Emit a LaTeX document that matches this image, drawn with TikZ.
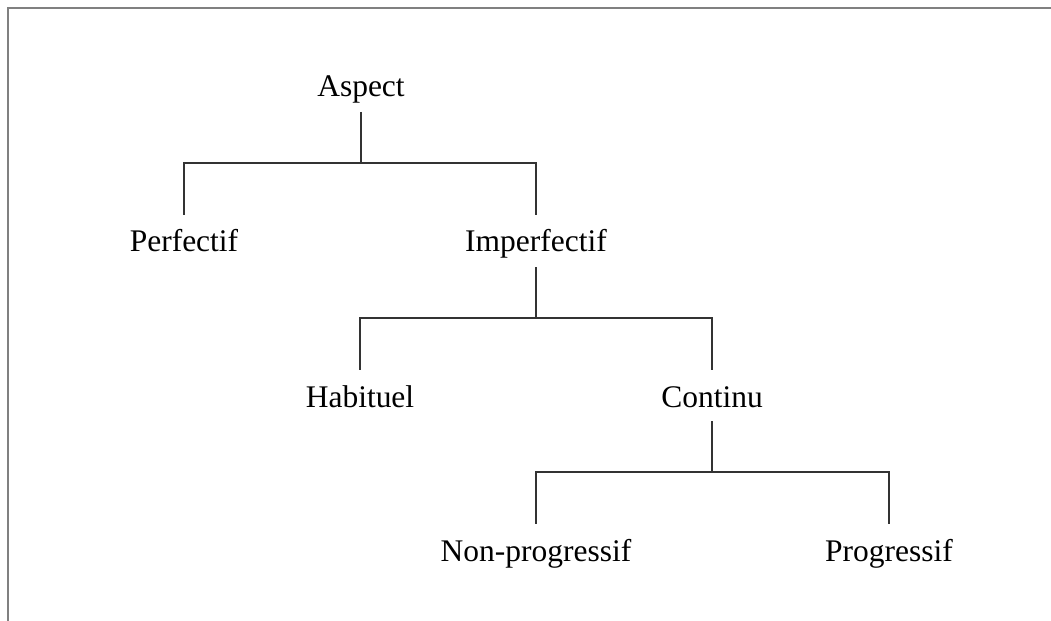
\documentclass[tikz,border=0pt]{standalone}
\usepackage{fontspec}
\setmainfont{Liberation Serif}
\begin{document}
\begin{tikzpicture}[x=1bp,y=-1bp,
  lbl/.style={anchor=base,inner sep=0pt,font=\fontsize{31.6}{38}\selectfont},
  conn/.style={draw=black!80,line width=1.1bp},
  frame/.style={draw=black!50,line width=1.5bp}]
\useasboundingbox (0,0) rectangle (1051,621);
\draw[frame] (8,621) -- (8,8) -- (1051,8);
\node[lbl] (asp) at (361,97) {Aspect};
\node[lbl] (perf) at (184,252) {Perfectif};
\node[lbl] (imp) at (536,252) {Imperfectif};
\node[lbl] (hab) at (360,407) {Habituel};
\node[lbl] (cont) at (712,407) {Continu};
\node[lbl] (nonp) at (536,561) {Non-progressif};
\node[lbl] (prog) at (889,561) {Progressif};
\draw[conn] ([yshift=-15bp]asp.base) -- ([yshift=-66bp]asp.base) -| ([yshift=37bp]perf.base);
\draw[conn] ([yshift=-66bp]asp.base) -| ([yshift=37bp]imp.base);
\draw[conn] ([yshift=-15bp]imp.base) -- ([yshift=-66bp]imp.base) -| ([yshift=37bp]hab.base);
\draw[conn] ([yshift=-66bp]imp.base) -| ([yshift=37bp]cont.base);
\draw[conn] ([yshift=-14bp]cont.base) -- ([yshift=-65bp]cont.base) -| ([yshift=37bp]nonp.base);
\draw[conn] ([yshift=-65bp]cont.base) -| ([yshift=37bp]prog.base);
\end{tikzpicture}
\end{document}
